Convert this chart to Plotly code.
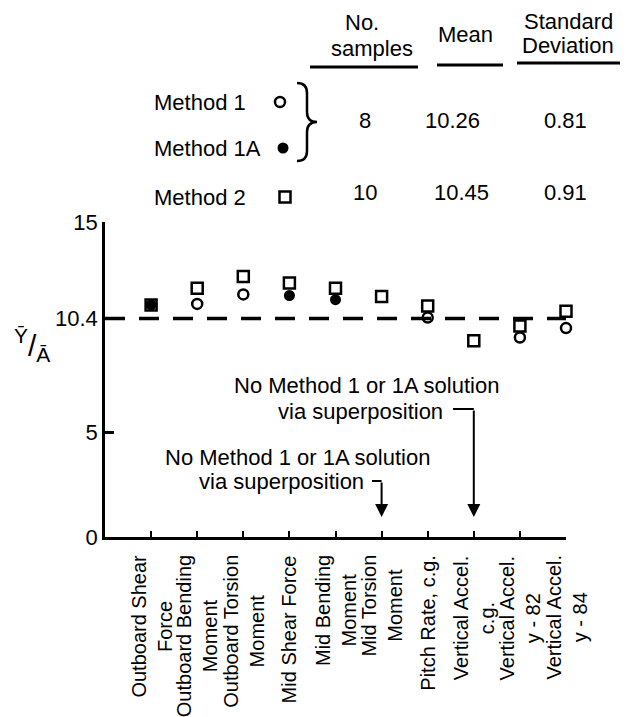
import plotly.graph_objects as go

# measured quantities per tick position
categories = ["Outboard Shear<br>Force", "Outboard Bending<br>Moment", "Outboard Torsion<br>Moment",
              "Mid Shear Force", "Mid Bending<br>Moment", "Mid Torsion<br>Moment",
              "Pitch Rate, c.g.", "Vertical Accel.<br>c.g.", "Vertical Accel.<br>y - 82",
              "Vertical Accel.<br>y - 84"]
positions = list(range(1, 11))

method1 = [None, 11.1, 11.55, None, None, None, 10.45, None, 9.5, 9.95]
method1a = [11.05, None, None, 11.5, 11.3, None, None, None, None, None]
method2 = [11.05, 11.85, 12.4, 12.1, 11.85, 11.45, 11.0, 9.35, 10.05, 10.75]
ref_level = 10.4

y_tickvals = [0, 5, 10.4, 15]
y_ticktext = ["0", "5", "10.4", "15"]

# summary table
method_names = ["Method 1", "Method 1A", "Method 2"]
n_samples = ["8", "10"]
means = ["10.26", "10.45"]
std_devs = ["0.81", "0.91"]

note_lines = ["No Method 1 or 1A solution", "via superposition"]

FONT = "Liberation Sans, Arial, Helvetica, sans-serif"
# page body has an 8px margin, so the figure is a bit smaller than the window
OFF = 8
W, H = 628 - OFF, 717 - OFF
# plot box in page pixels
X0, X1, YT, YB = 105, 566, 222, 537
XMAX, YMAX = 10, 15


def dx(x):
    return (x - X0) / (X1 - X0) * XMAX


def dy(y):
    return (YB - y) / (YB - YT) * YMAX


open_circle = dict(symbol="circle-open", size=10, color="black", line=dict(width=2.5))
filled_circle = dict(symbol="circle", size=11, color="black", line=dict(width=0))
open_square = dict(symbol="square-open", size=11, color="black", line=dict(width=2.5))

fig = go.Figure()
fig.add_trace(go.Scatter(x=[0, XMAX], y=[ref_level, ref_level], mode="lines",
                         line=dict(color="black", width=3.5, dash="20px,14px"),
                         cliponaxis=False))
fig.add_trace(go.Scatter(x=positions, y=method2, mode="markers", marker=open_square, cliponaxis=False))
fig.add_trace(go.Scatter(x=positions, y=method1, mode="markers", marker=open_circle, cliponaxis=False))
fig.add_trace(go.Scatter(x=positions, y=method1a, mode="markers", marker=filled_circle, cliponaxis=False))

# legend keys next to the table rows (overlay axes in page pixels)
for kx, ky, mk in zip([280, 283, 285], [102, 148, 197], [open_circle, filled_circle, open_square]):
    fig.add_trace(go.Scatter(x=[kx], y=[ky], mode="markers", marker=mk,
                             xaxis="x2", yaxis="y2"))


def text(x, y, s, size=22, xanchor="center", **kw):
    return dict(x=x, y=y, xref="x2", yref="y2", text=s, showarrow=False,
                xanchor=xanchor, yanchor="middle", font=dict(size=size), **kw)


ann = []
# x category labels, rotated
for p, lab in zip(positions, categories):
    ann.append(dict(x=p, xref="x", y=553, yref="y2", text=lab, textangle=-90,
                    showarrow=False, xanchor="center", yanchor="top", align="center",
                    font=dict(size=20)))

# y title
ann.append(text(32, 345, "<sup>Ȳ</sup>/<sub>Ā</sub>", size=30))

# notes
ann.append(text(366, 385, note_lines[0]))
ann.append(text(360, 411, note_lines[1]))
ann.append(text(297, 457, note_lines[0]))
ann.append(text(281, 481, note_lines[1], borderpad=0))
for tx, top in [(8, dy(409)), (6, dy(481))]:
    ann.append(dict(x=tx, y=dy(517), xref="x", yref="y", ax=tx, ay=top, axref="x", ayref="y",
                    text="", showarrow=True, arrowhead=2, arrowsize=1.3, arrowwidth=2,
                    arrowcolor="black", standoff=0))

# table headers
for s, x, y in [("No.", 362, 22), ("samples", 372, 48), ("Mean", 465, 34),
                ("Standard", 568, 21), ("Deviation", 568, 45)]:
    ann.append(text(x, y, s, borderpad=0))
# table rows
for name, y in zip(method_names, [102, 148, 197]):
    ann.append(text(152, y, name, xanchor="left"))
for i, y in enumerate([120, 192]):
    for s, x in [(n_samples[i], 365), (means[i], 452 + 9 * i), (std_devs[i], 565)]:
        ann.append(text(x, y, s))

shapes = []
for x0, x1, y in [(310, 418, 67), (437, 503, 65), (517, 627, 63)]:
    shapes.append(dict(type="line", xref="x2", yref="y2", x0=x0, x1=x1, y0=y, y1=y,
                       line=dict(color="black", width=3)))
for x0, x1, y in [(dx(453), 8, dy(409)), (dx(372), 6, dy(481))]:
    shapes.append(dict(type="line", xref="x", yref="y", x0=x0, x1=x1, y0=y, y1=y,
                       line=dict(color="black", width=2)))

# brace grouping Method 1 and 1A
shapes.append(dict(type="path", xref="x2", yref="y2",
                   path="M 297,83 Q 307,83 307,93 L 307,112 Q 307,122 317,122 "
                        "Q 307,122 307,132 L 307,151 Q 307,161 297,161",
                   line=dict(color="black", width=2.5)))

fig.update_layout(
    width=W, height=H,
    margin=dict(l=0, r=0, t=0, b=0),
    paper_bgcolor="white", plot_bgcolor="rgba(0,0,0,0)",
    showlegend=False,
    font=dict(family=FONT, color="black"),
    annotations=ann, shapes=shapes,
    xaxis=dict(domain=[(X0 - OFF) / W, (X1 - OFF) / W], range=[0, XMAX],
               tickvals=positions, showticklabels=False,
               ticks="inside", ticklen=6, tickwidth=2, tickcolor="black",
               showline=True, linecolor="black", linewidth=2.5,
               showgrid=False, zeroline=False, automargin=False),
    yaxis=dict(domain=[(H - (YB - OFF)) / H, (H - (YT - OFF)) / H], range=[0, YMAX],
               tickvals=y_tickvals, ticktext=y_ticktext,
               ticks="inside", ticklen=9, tickwidth=2.5, tickcolor="black",
               tickfont=dict(size=22), showline=True, linecolor="black", linewidth=2.5,
               showgrid=False, zeroline=False, automargin=False),
    xaxis2=dict(domain=[0, 1], range=[OFF, OFF + W], visible=False, anchor="y2"),
    yaxis2=dict(domain=[0, 1], range=[OFF + H, OFF], visible=False, anchor="x2"),
)

fig.write_html("out.html")
